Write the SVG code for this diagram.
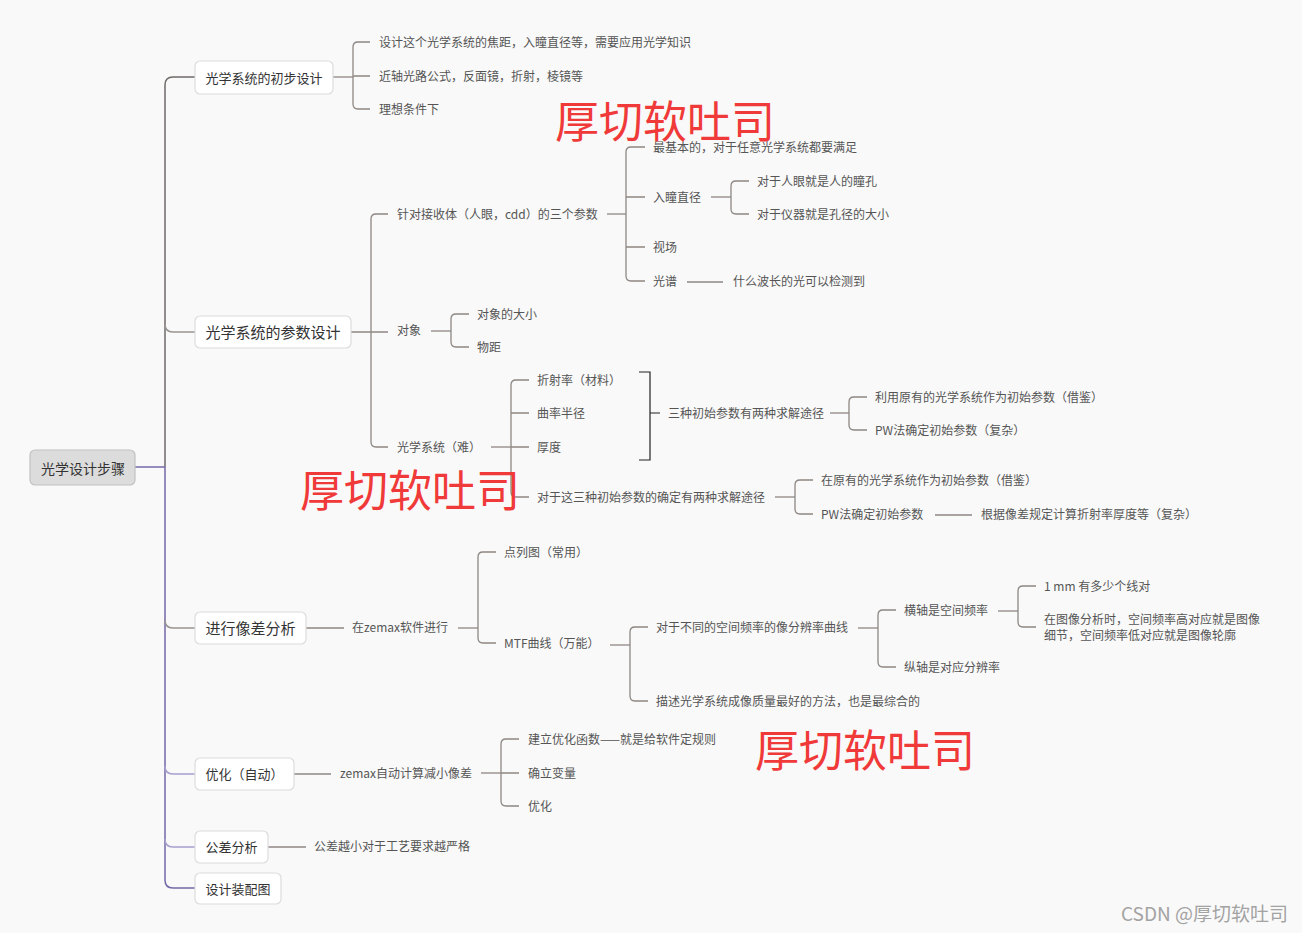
<svg xmlns="http://www.w3.org/2000/svg" width="1302" height="933" viewBox="0 0 1302 933">
<style>
.bg{fill:#f9f9f9}
text{font-family:"Noto Sans CJK SC","Noto Sans",sans-serif;dominant-baseline:central}
.t{font-size:12px;fill:#555}
.n13{font-size:13px;fill:#333;text-anchor:middle}
.n15{font-size:15px;fill:#333;text-anchor:middle}
.box{fill:#ffffff;stroke:#dcdcdc;stroke-width:1.2}
.root{fill:#dcdcdc;stroke:#c2c2c2;stroke-width:1.2}
.ln{fill:none;stroke:#8e8783;stroke-width:1.3}
.trunkG{fill:none;stroke:#6f6a68;stroke-width:1.5}
.trunkP{fill:none;stroke:#7468a8;stroke-width:1.5}
.brP{fill:none;stroke:#a79fcf;stroke-width:1.4}
.brG{fill:none;stroke:#9a9490;stroke-width:1.4}
.sq{fill:none;stroke:#222;stroke-width:1.2}
.wm{font-size:44px;fill:#f03a3a}
</style>
<rect class="bg" x="0" y="0" width="1302" height="933"/>

<g id="connectors">
  <path class="trunkG" d="M195,77 H173 Q165,77 165,85 V467"/>
  <path class="trunkP" d="M165,467 V880 Q165,888 173,888 H195"/>
  <path class="trunkP" d="M135,467 H165"/>
  <path class="brG" d="M165,324 Q165,332 173,332 H195"/>
  <path class="brG" d="M165,620 Q165,628 173,628 H195"/>
  <path class="brP" d="M165,766 Q165,774 173,774 H195"/>
  <path class="brP" d="M165,839 Q165,847 173,847 H195"/>

  <path class="ln" d="M333,77 H353"/>
  <path class="ln" d="M370,42 H358 Q353,42 353,47 V104 Q353,109 358,109 H370 M353,76 H370"/>

  <path class="ln" d="M351,332 H388"/>
  <path class="ln" d="M388,214 H376 Q371,214 371,219 V442 Q371,447 376,447 H388"/>
  <path class="ln" d="M607,214 H626"/>
  <path class="ln" d="M645,147 H631 Q626,147 626,152 V276 Q626,281 631,281 H645 M626,197 H645 M626,247 H645"/>
  <path class="ln" d="M711,197 H731"/>
  <path class="ln" d="M749,181 H736 Q731,181 731,186 V209 Q731,214 736,214 H749"/>
  <path class="ln" d="M687,282 H723"/>
  <path class="ln" d="M431,331 H451"/>
  <path class="ln" d="M469,314 H456 Q451,314 451,319 V342 Q451,347 456,347 H469"/>
  <path class="ln" d="M491,447 H511"/>
  <path class="ln" d="M529,380 H516 Q511,380 511,385 V492 Q511,497 516,497 H529 M511,413 H529 M511,447 H529"/>
  <path class="sq" d="M639,372 H650 V460 H639 M650,413 H660"/>
  <path class="ln" d="M830,413 H849"/>
  <path class="ln" d="M867,397 H854 Q849,397 849,402 V425 Q849,430 854,430 H867"/>
  <path class="ln" d="M775,497 H795"/>
  <path class="ln" d="M813,480 H800 Q795,480 795,485 V509 Q795,514 800,514 H813"/>
  <path class="ln" d="M935,515 H972"/>

  <path class="ln" d="M306,628 H344"/>
  <path class="ln" d="M458,628 H478"/>
  <path class="ln" d="M496,552 H483 Q478,552 478,557 V638 Q478,643 483,643 H496"/>
  <path class="ln" d="M610,645 H630"/>
  <path class="ln" d="M648,627 H635 Q630,627 630,632 V696 Q630,701 635,701 H648"/>
  <path class="ln" d="M858,628 H878"/>
  <path class="ln" d="M896,610 H883 Q878,610 878,615 V662 Q878,667 883,667 H896"/>
  <path class="ln" d="M998,611 H1018"/>
  <path class="ln" d="M1036,586 H1023 Q1018,586 1018,591 V622 Q1018,627 1023,627 H1036"/>

  <path class="ln" d="M294,774 H331"/>
  <path class="ln" d="M481,773 H501"/>
  <path class="ln" d="M519,739 H506 Q501,739 501,744 V801 Q501,806 506,806 H519 M501,773 H519"/>

  <path class="ln" d="M268,847 H306"/>
</g>

<g id="root">
  <rect class="root" x="30" y="450" width="105" height="35" rx="5"/>
  <text x="83" y="467.5" style="font-size:14px;fill:#333;text-anchor:middle">光学设计步骤</text>
</g>

<g id="n1">
  <rect class="box" x="195" y="61" width="138" height="33" rx="5"/>
  <text class="n13" x="264" y="77">光学系统的初步设计</text>
  <text class="t" x="379" y="41.5">设计这个光学系统的焦距，入瞳直径等，需要应用光学知识</text>
  <text class="t" x="379" y="75.5">近轴光路公式，反面镜，折射，棱镜等</text>
  <text class="t" x="379" y="108.5">理想条件下</text>
</g>

<g id="n2">
  <rect class="box" x="195" y="316" width="156" height="32" rx="5"/>
  <text class="n15" x="273" y="331.5">光学系统的参数设计</text>
  <text class="t" x="397" y="213.5">针对接收体（人眼，cdd）的三个参数</text>
  <text class="t" x="653" y="146.5">最基本的，对于任意光学系统都要满足</text>
  <text class="t" x="653" y="196.5">入瞳直径</text>
  <text class="t" x="757" y="180.5">对于人眼就是人的瞳孔</text>
  <text class="t" x="757" y="213.5">对于仪器就是孔径的大小</text>
  <text class="t" x="653" y="246.5">视场</text>
  <text class="t" x="653" y="280.5">光谱</text>
  <text class="t" x="733" y="280.5">什么波长的光可以检测到</text>
  <text class="t" x="397" y="329.5">对象</text>
  <text class="t" x="477" y="313.5">对象的大小</text>
  <text class="t" x="477" y="346.5">物距</text>
  <text class="t" x="397" y="446.5">光学系统（难）</text>
  <text class="t" x="537" y="379.5">折射率（材料）</text>
  <text class="t" x="537" y="412.5">曲率半径</text>
  <text class="t" x="537" y="446.5">厚度</text>
  <text class="t" x="668" y="412.5">三种初始参数有两种求解途径</text>
  <text class="t" x="875" y="396.5">利用原有的光学系统作为初始参数（借鉴）</text>
  <text class="t" x="875" y="429.5">PW法确定初始参数（复杂）</text>
  <text class="t" x="537" y="496.5">对于这三种初始参数的确定有两种求解途径</text>
  <text class="t" x="821" y="479.5">在原有的光学系统作为初始参数（借鉴）</text>
  <text class="t" x="821" y="513.5">PW法确定初始参数</text>
  <text class="t" x="981" y="513.5">根据像差规定计算折射率厚度等（复杂）</text>
</g>

<g id="n3">
  <rect class="box" x="195" y="612" width="111" height="32" rx="5"/>
  <text class="n15" x="250.5" y="627.5">进行像差分析</text>
  <text class="t" x="352" y="626.5">在zemax软件进行</text>
  <text class="t" x="504" y="551.5">点列图（常用）</text>
  <text class="t" x="504" y="642.5">MTF曲线（万能）</text>
  <text class="t" x="656" y="626.5">对于不同的空间频率的像分辨率曲线</text>
  <text class="t" x="656" y="700.5">描述光学系统成像质量最好的方法，也是最综合的</text>
  <text class="t" x="904" y="609.5">横轴是空间频率</text>
  <text class="t" x="904" y="666.5">纵轴是对应分辨率</text>
  <text class="t" x="1044" y="585.5">1 mm 有多少个线对</text>
  <text class="t" x="1044" y="618.5">在图像分析时，空间频率高对应就是图像</text>
  <text class="t" x="1044" y="634.5">细节，空间频率低对应就是图像轮廓</text>
</g>

<g id="n4">
  <rect class="box" x="195" y="758" width="99" height="32" rx="5"/>
  <text class="n13" x="244.5" y="773.5">优化（自动）</text>
  <text class="t" x="340" y="772.5">zemax自动计算减小像差</text>
  <text class="t" x="528" y="738.5">建立优化函数——就是给软件定规则</text>
  <text class="t" x="528" y="772.5">确立变量</text>
  <text class="t" x="528" y="805.5">优化</text>
</g>

<g id="n5">
  <rect class="box" x="195" y="831" width="73" height="32" rx="5"/>
  <text class="n13" x="231.5" y="846.5">公差分析</text>
  <text class="t" x="314" y="845.5">公差越小对于工艺要求越严格</text>
</g>

<g id="n6">
  <rect class="box" x="195" y="873" width="86" height="31" rx="5"/>
  <text class="n13" x="238" y="888">设计装配图</text>
</g>

<g id="watermarks">
  <text class="wm" x="555" y="119">厚切软吐司</text>
  <text class="wm" x="300" y="488">厚切软吐司</text>
  <text class="wm" x="755" y="748">厚切软吐司</text>
  <text x="1288" y="912" style="font-size:19px;fill:#a3a3a3;text-anchor:end">CSDN @厚切软吐司</text>
</g>
</svg>
